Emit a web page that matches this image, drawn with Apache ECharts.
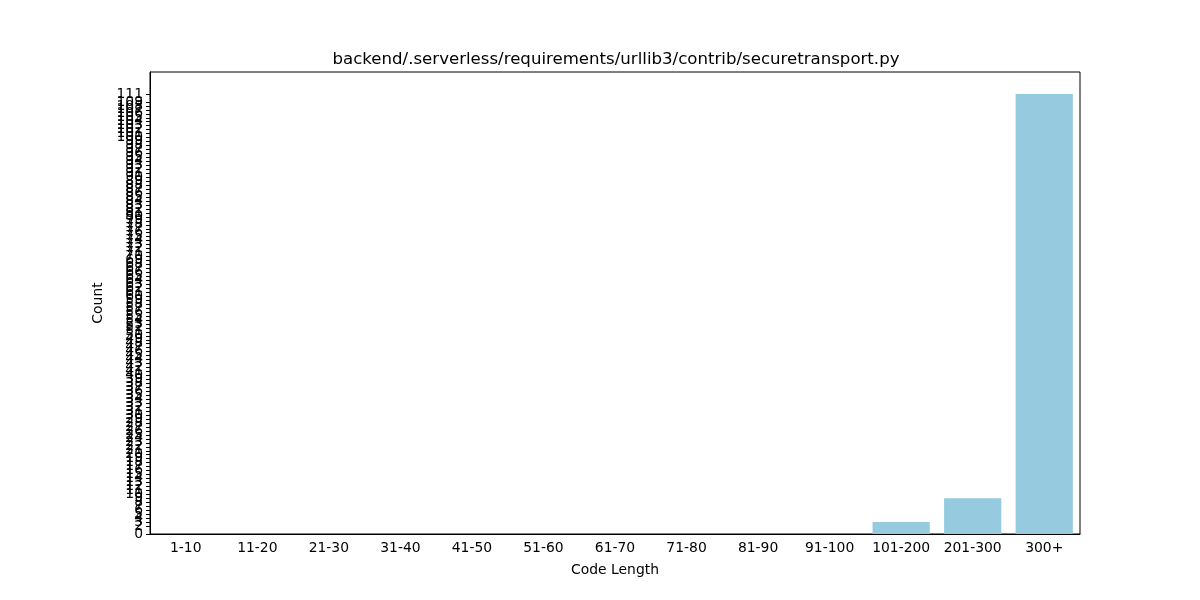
<!DOCTYPE html>
<html>
<head>
<meta charset="utf-8">
<script src="https://cdn.jsdelivr.net/npm/echarts@6/dist/echarts.min.js"></script>
<style>
html, body { margin: 0; padding: 0; background: #fff; }
#chart { width: 1200px; height: 600px; }
</style>
</head>
<body>
<div id="chart"></div>
<script>
const categories = ['1-10', '11-20', '21-30', '31-40', '41-50', '51-60', '61-70', '71-80', '81-90', '91-100', '101-200', '201-300', '300+'];
const counts = [0, 0, 0, 0, 0, 0, 0, 0, 0, 0, 3, 9, 111];
// every integer tick 0..max, like the original
const yTicks = [];
for (let i = 0; i <= 111; i++) yTicks.push(i);

const font = 'DejaVu Sans';
const chart = echarts.init(document.getElementById('chart'));
const option = {
    backgroundColor: '#fff',
    animation: false,
    title: {
        text: 'backend/.serverless/requirements/urllib3/contrib/securetransport.py',
        left: 611,
        top: 46,
        textAlign: 'center',
        textStyle: { fontFamily: font, fontSize: 16.6, fontWeight: 'normal', color: '#000' }
    },
    grid: {
        left: 150, right: 120, top: 72, bottom: 66,
        show: true, borderColor: '#000', borderWidth: 1, backgroundColor: 'transparent'
    },
    xAxis: {
        type: 'category',
        data: categories,
        name: 'Code Length',
        nameLocation: 'middle',
        nameGap: 29,
        nameTextStyle: { fontFamily: font, fontSize: 13.9, color: '#000' },
        axisLine: { lineStyle: { color: '#000', width: 1 } },
        axisTick: { alignWithLabel: true, length: 4, lineStyle: { color: '#000' } },
        axisLabel: { fontFamily: font, fontSize: 13.9, color: '#000', margin: 7, interval: 0 },
        splitLine: { show: false }
    },
    yAxis: {
        type: 'value',
        min: 0,
        max: 116.55,
        name: 'Count',
        nameLocation: 'middle',
        nameGap: 42,
        nameRotate: 90,
        nameTextStyle: { fontFamily: font, fontSize: 13.9, color: '#000' },
        axisLine: { show: true, lineStyle: { color: '#000', width: 1 } },
        axisTick: { show: true, length: 4, lineStyle: { color: '#000' }, customValues: yTicks },
        axisLabel: {
            fontFamily: font, fontSize: 13.9, color: '#000', margin: 7,
            customValues: yTicks, hideOverlap: false, showMinLabel: true, showMaxLabel: true
        },
        splitLine: { show: false }
    },
    series: [{
        type: 'bar',
        data: counts,
        barCategoryGap: '20%',
        itemStyle: { color: '#96cadf' }
    }]
};
chart.setOption(option);
</script>
</body>
</html>
